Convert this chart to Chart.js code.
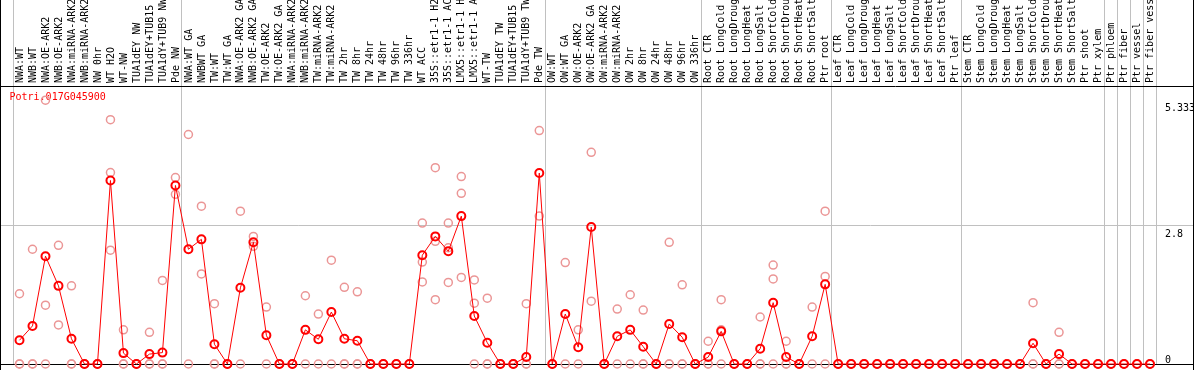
<!DOCTYPE html>
<html>
<head>
<meta charset="utf-8">
<script src="https://cdn.jsdelivr.net/npm/chart.js@4.4.1/dist/chart.umd.min.js"></script>
<style>
  body { margin: 0; background: #fff; }
  #wrap { width: 1194px; height: 370px; }
</style>
</head>
<body>
<div id="wrap"><canvas id="exprChart" width="1194" height="370"></canvas></div>
<script>
const geneId = 'Potri.017G045900';

const samples = [
  'NWA:WT', 'NWB:WT', 'NWA:OE-ARK2', 'NWB:OE-ARK2', 'NWA:miRNA-ARK2', 'NWB:miRNA-ARK2',
  'NW 0hr', 'WT H2O', 'WT-NW', 'TUA1dEY NW', 'TUA1dEY+TUB15 NW', 'TUA1dY+TUB9 NW', 'Pde NW',
  'NWA:WT GA', 'NWBWT GA', 'TW:WT', 'TW:WT GA', 'NWA:OE-ARK2 GA', 'NWB:OE-ARK2 GA',
  'TW:OE-ARK2', 'TW:OE-ARK2 GA', 'NWA:miRNA-ARK2', 'NWB:miRNA-ARK2', 'TW:miRNA-ARK2', 'TW:miRNA-ARK2',
  'TW 2hr', 'TW 8hr', 'TW 24hr', 'TW 48hr', 'TW 96hr', 'TW 336hr', 'WT ACC',
  '35S::etr1-1 H2O', '35S::etr1-1 ACC', 'LMX5::etr1-1 H2O', 'LMX5::etr1-1 ACC', 'WT-TW',
  'TUA1dEY TW', 'TUA1dEY+TUB15 TW', 'TUA1dY+TUB9 TW', 'Pde TW',
  'OW:WT', 'OW:WT GA', 'OW:OE-ARK2', 'OW:OE-ARK2 GA', 'OW:miRNA-ARK2', 'OW:miRNA-ARK2',
  'OW 2hr', 'OW 8hr', 'OW 24hr', 'OW 48hr', 'OW 96hr', 'OW 336hr',
  'Root CTR', 'Root LongCold', 'Root LongDrought', 'Root LongHeat', 'Root LongSalt',
  'Root ShortCold', 'Root ShortDrought', 'Root ShortHeat', 'Root ShortSalt', 'Ptr root',
  'Leaf CTR', 'Leaf LongCold', 'Leaf LongDrought', 'Leaf LongHeat', 'Leaf LongSalt',
  'Leaf ShortCold', 'Leaf ShortDrought', 'Leaf ShortHeat', 'Leaf ShortSalt', 'Ptr leaf',
  'Stem CTR', 'Stem LongCold', 'Stem LongDrought', 'Stem LongHeat', 'Stem LongSalt',
  'Stem ShortCold', 'Stem ShortDrought', 'Stem ShortHeat', 'Stem ShortSalt', 'Ptr shoot',
  'Ptr xylem', 'Ptr phloem', 'Ptr fiber', 'Ptr vessel', 'Ptr fiber vessel'
];

// mean expression per sample
const meanExpr = [
  0.48, 0.77, 2.18, 1.58, 0.51, 0, 0, 3.71, 0.22, 0,
  0.20, 0.23, 3.61, 2.32, 2.52, 0.40, 0, 1.54, 2.46, 0.58,
  0, 0, 0.69, 0.50, 1.05, 0.51, 0.47, 0, 0, 0,
  0, 2.20, 2.58, 2.28, 2.99, 0.97, 0.43, 0, 0, 0.14,
  3.86, 0, 1.01, 0.34, 2.77, 0, 0.56, 0.69, 0.35, 0,
  0.81, 0.54, 0, 0.14, 0.66, 0, 0, 0.31, 1.24, 0.14,
  0, 0.56, 1.61, 0, 0, 0, 0, 0, 0, 0,
  0, 0, 0, 0, 0, 0, 0, 0, 0.42, 0,
  0.20, 0, 0, 0, 0, 0, 0, 0
];

// replicates
const rep1 = [
  1.42, 2.32, 5.333, 2.40, 1.58, 0, 0, 4.94, 0.69, 0,
  0.64, 1.69, 3.77, 4.64, 3.19, 1.22, 0, 3.09, 2.58, 1.15,
  0, 0, 1.38, 1.01, 2.10, 1.55, 1.46, 0, 0, 0,
  0, 2.85, 3.97, 2.85, 3.79, 1.70, 1.33, 0, 0, 1.22,
  4.72, 0, 2.05, 0.69, 4.28, 0, 1.11, 1.40, 1.09, 0,
  2.46, 1.60, 0, 0.46, 1.30, 0, 0, 0.95, 2.00, 0.46,
  0, 1.15, 3.09, 0, 0, 0, 0, 0, 0, 0,
  0, 0, 0, 0, 0, 0, 0, 0, 1.24, 0,
  0.64, 0, 0, 0, 0, 0, 0, 0
];
const rep2 = [
  0, 0, 1.19, 0.79, 0, 0, 0, 3.87, 0, 0,
  0, 0, 3.43, 0, 1.82, 0, 0, 0, 2.38, 0,
  0, 0, 0, 0, 0, 0, 0, 0, 0, 0,
  0, 2.06, 2.48, 2.35, 3.45, 1.23, 0, 0, 0, 0,
  2.99, 0, 0, 0, 1.27, 0, 0, 0, 0, 0,
  0, 0, 0, 0, 0.69, 0, 0, 0, 1.72, 0,
  0, 0, 1.77, 0, 0, 0, 0, 0, 0, 0,
  0, 0, 0, 0, 0, 0, 0, 0, 0, 0,
  0, 0, 0, 0, 0, 0, 0, 0
];
const rep3 = [
  0, 0, 0, null, 0, null, null, 2.30, 0, null,
  0, 0, null, null, null, 0, null, null, null, null,
  null, null, null, null, null, 0, 0, null, null, null,
  null, 1.66, 1.30, 1.65, 1.75, 0, 0, null, null, 0,
  null, null, null, null, null, null, null, null, 0, null,
  0, 0, null, 0, 0, null, null, 0, 0, 0,
  null, null, 0, null, null, null, null, null, null, null,
  null, null, null, null, null, null, null, null, 0, null,
  0, null, null, null, null, null, null, null
];

const yTicks = [0, 2.8, 5.333];
// index of first sample in each group (separator drawn before it)
const groupStarts = [0, 13, 41, 53, 63, 73, 84, 85, 86, 87];

const RED = '#ff0000';
const PINK = '#eb9696';
const GRID = '#c0c0c0';
const NONE = 'rgba(0,0,0,0)';

Chart.defaults.font.family = '"DejaVu Sans Mono", monospace';
Chart.defaults.font.size = 10;
Chart.defaults.color = '#000';

// black box round plot and labels, plus gene name
const framePlugin = {
  id: 'frame',
  beforeDatasetsDraw(chart) {
    const { ctx, chartArea: a, width: W, height: H } = chart;
    ctx.save();
    ctx.strokeStyle = '#000';
    ctx.lineWidth = 1;
    ctx.beginPath();
    ctx.moveTo(0.5, 0); ctx.lineTo(0.5, H);
    ctx.moveTo(W - 0.5, 0); ctx.lineTo(W - 0.5, H);
    ctx.moveTo(0, a.top - 0.5); ctx.lineTo(W, a.top - 0.5);
    ctx.moveTo(0, a.bottom + 0.5); ctx.lineTo(W, a.bottom + 0.5);
    ctx.stroke();
    ctx.fillStyle = RED;
    ctx.font = '10px "DejaVu Sans Mono"';
    ctx.textBaseline = 'middle';
    ctx.fillText(geneId, 9.5, a.top + 10);
    ctx.restore();
  }
};

function repSet(data) {
  return {
    data: data,
    showLine: false,
    borderColor: PINK,
    pointRadius: 4,
    pointBorderWidth: 1.5,
    pointBorderColor: PINK,
    pointBackgroundColor: NONE,
    clip: false
  };
}

new Chart(document.getElementById('exprChart'), {
  type: 'line',
  data: {
    labels: samples,
    datasets: [
      {
        data: meanExpr,
        borderColor: RED,
        borderWidth: 1,
        pointRadius: 4,
        pointBorderWidth: 2,
        pointBorderColor: RED,
        pointBackgroundColor: NONE,
        tension: 0,
        clip: false
      },
      repSet(rep1),
      repSet(rep2),
      repSet(rep3)
    ]
  },
  options: {
    responsive: false,
    animation: false,
    events: [],
    layout: { padding: { top: 0, bottom: 1, left: 0, right: 0 } },
    plugins: { legend: { display: false }, tooltip: { enabled: false } },
    scales: {
      x: {
        position: 'top',
        offset: true,
        border: { display: false },
        grid: {
          offset: true,
          tickLength: 87,
          color: c => (c.type !== 'tick' || groupStarts.includes(c.index)) ? GRID : NONE
        },
        ticks: { autoSkip: false, minRotation: 90, maxRotation: 90, padding: -83, labelOffset: 12.5 },
        afterFit: s => { s.height = 87; }
      },
      y: {
        position: 'left',
        min: 0,
        max: 5.6,
        border: { display: false },
        grid: {
          tickLength: 13,
          color: c => (c.tick && c.tick.value === 2.8) ? GRID : NONE
        },
        ticks: { display: false },
        afterBuildTicks: s => { s.ticks = yTicks.map(v => ({ value: v })); },
        afterFit: s => { s.width = 13; }
      },
      y2: {
        position: 'right',
        min: 0,
        max: 5.6,
        border: { display: false },
        grid: {
          drawOnChartArea: false,
          tickLength: 37.5,
          color: c => (c.tick && c.tick.value === 2.8) ? GRID : NONE
        },
        ticks: {
          padding: -29,
          labelOffset: 2.5,
          callback: v => v === 0 ? ['0', ''] : ['', String(v)]
        },
        afterBuildTicks: s => { s.ticks = yTicks.map(v => ({ value: v })); },
        afterFit: s => { s.width = 37.5; }
      }
    }
  },
  plugins: [framePlugin]
});
</script>
</body>
</html>
